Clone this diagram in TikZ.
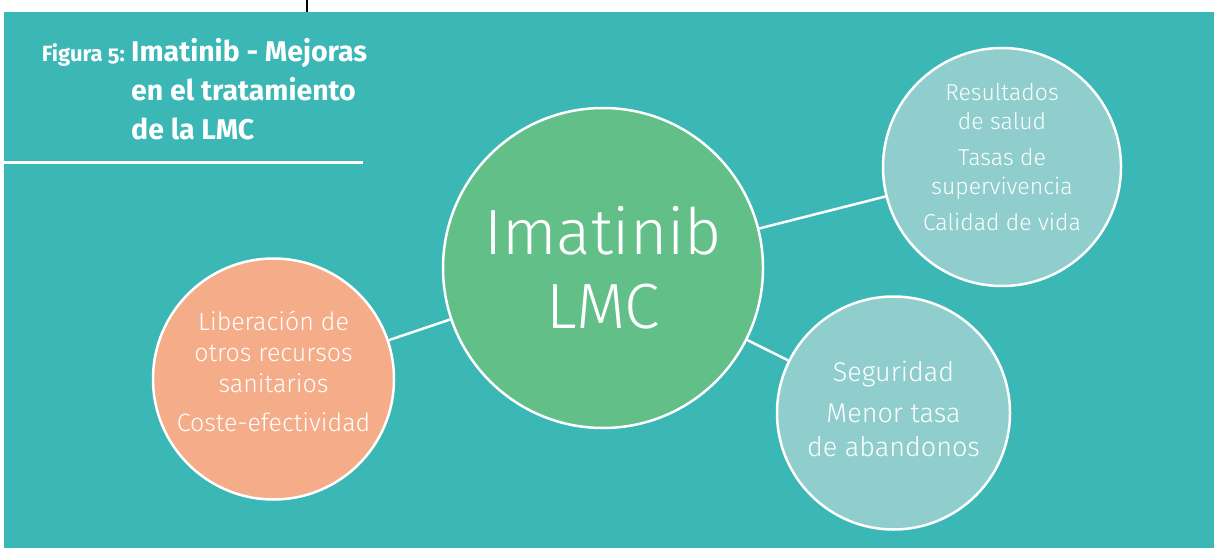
\documentclass[tikz,border=0pt]{standalone}
\usepackage{fontspec}
\setmainfont{Fira Sans}
\newfontfamily\bubblefont{Fira Sans}[UprightFont={* Light}]
\newfontfamily\figfont{Fira Sans}[Numbers=OldStyle]
\usepackage{tikz}
\definecolor{bgteal}{RGB}{59,183,182}
\definecolor{hubgreen}{RGB}{98,191,135}
\definecolor{costorange}{RGB}{245,172,136}
\definecolor{palecyan}{RGB}{144,206,206}
\tikzstyle{bubble}=[circle, draw=white, line width=2.5pt, inner sep=0pt, text=white, align=center, font=\bubblefont]
\tikzstyle{hub}=[bubble, fill=hubgreen, minimum size=320pt]
\tikzstyle{leaf}=[bubble, fill=palecyan]
\tikzstyle{link}=[draw=white, line width=2.5pt]
\tikzstyle{heading}=[inner sep=0pt, text=white, font=\bfseries]

\begin{document}
\begin{tikzpicture}[x=1pt, y=-1pt]
	\useasboundingbox (0,0) rectangle (1214,548);
	\fill[bgteal] (4,12) rectangle (1214,548);
	\draw[black, line width=1.5pt] (307,0) -- (307,12);
	\draw[white, line width=3pt] (4,163) -- (363,163);
	\draw (125,62) node[heading, anchor=base east, font=\figfont\bfseries\fontsize{22}{26}\selectfont] (figlabel) {Figura 5:};
	\draw (131,140) node[heading, anchor=base west, align=left, font=\bfseries\fontsize{28.5}{39}\selectfont] (title) {Imatinib - Mejoras\\en el tratamiento\\de la LMC};
	\draw (603,268) node[hub, font=\bubblefont\fontsize{64}{74}\selectfont] (imatinib) {Imatinib\\LMC};
	\draw (1002,167) node[leaf, minimum size=238pt, text depth=21pt, font=\bubblefont\fontsize{23}{29}\selectfont] (salud) {Resultados\\de salud\\[7pt]Tasas de\\supervivencia\\[7pt]Calidad de vida};
	\draw (273.5,379) node[bubble, fill=costorange, minimum size=241pt, text depth=16pt, font=\bubblefont\fontsize{25}{31}\selectfont] (recursos) {Liberaci\'on de\\otros recursos\\sanitarios\\[8pt]Coste-efectividad};
	\draw (893.5,413) node[leaf, minimum size=233pt, text depth=8pt, font=\bubblefont\fontsize{27}{34}\selectfont] (seguridad) {Seguridad\\[7pt]Menor tasa\\de abandonos};
	\draw[link] (imatinib) -- (salud);
	\draw[link] (imatinib) -- (recursos);
	\draw[link] (imatinib) -- (seguridad);
\end{tikzpicture}
\end{document}
